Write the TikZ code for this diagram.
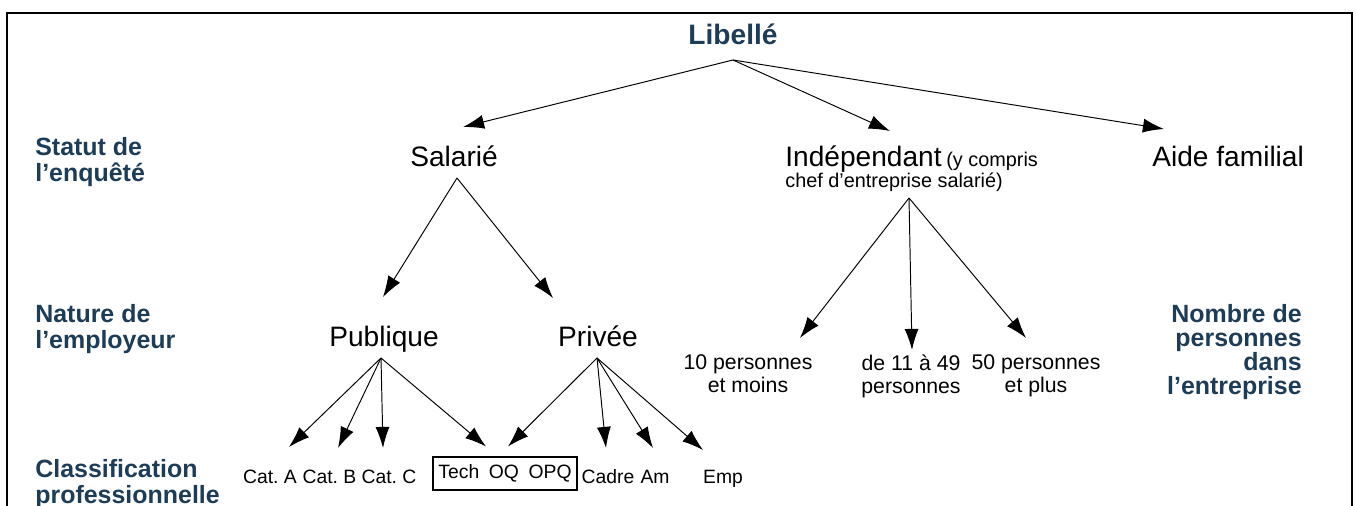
\documentclass[tikz,border=0pt]{standalone}
\usepackage{fontspec}
\setmainfont{Liberation Sans}
\usetikzlibrary{arrows.meta}
\usetikzlibrary{positioning}
\usetikzlibrary{calc}

\definecolor{levelblue}{RGB}{29,60,88}

\tikzset{
  title/.style={font=\fontsize{16}{18}\selectfont\bfseries, text=levelblue, inner sep=0pt},
  level/.style={font=\fontsize{14.2}{14.8}\selectfont\bfseries, text=levelblue, inner sep=0pt},
  big/.style={font=\fontsize{16}{18}\selectfont, inner sep=0pt},
  mid/.style={font=\fontsize{12.1}{13.1}\selectfont, inner sep=0pt, align=center},
  small/.style={font=\fontsize{11}{12}\selectfont, inner sep=0pt},
  arr/.style={-{Latex[length=12pt,width=8pt]}, line width=0.55pt},
}

\begin{document}
\frenchspacing
\begin{tikzpicture}[x=0.02cm, y=-0.02cm]
\useasboundingbox (0,0) rectangle (1356,506);

%frame
\draw[line width=1.6pt] (7,520) -- (7,13) -- (1352,13) -- (1352,520);

%levels
\node[level, anchor=north west, align=left] (statut) at (35,137) {Statut de\\l’enquêté};
\node[level, anchor=north west, align=left] (nature) at (35,304) {Nature de\\l’employeur};
\node[level, anchor=north west, align=left] (classif) at (35,459) {Classification\\professionnelle};
\node[level, anchor=north east, align=right, font=\fontsize{14.2}{13.7}\selectfont\bfseries] (nombre) at (1302,304) {Nombre de\\personnes\\dans\\l’entreprise};

%top
\node[title, anchor=base] (lib) at (733,45) {Libellé};
\coordinate (libfoot) at ($(lib.base)+(0,15)$);

%statut
\node[big, anchor=base] (sal) at (454,167) {Salarié};
\node[big, anchor=base west] (ind) at (785,167) {Indépendant};
\node[small, anchor=base west, font=\fontsize{11.3}{12}\selectfont] (indy) at (946,167) {(y compris};
\node[small, anchor=base west, font=\fontsize{11.3}{12}\selectfont] (indb) at (785,188) {chef d’entreprise salarié)};
\node[big, anchor=base west] (aide) at (1152,167) {Aide familial};

\draw[arr] (libfoot) -- ($(sal.base)+(9,-40)$);
\draw[arr] (libfoot) -- ($(ind.base west)+(105,-36)$);
\draw[arr] (libfoot) -- ($(aide.base west)+(12,-38)$);

%employeur
\node[big, anchor=base] (pub) at (384,347) {Publique};
\node[big, anchor=base] (priv) at (598,347) {Privée};
\coordinate (salfoot) at ($(sal.base)+(3,11)$);
\draw[arr] (salfoot) -- ($(pub.base)+(-1,-50)$);
\draw[arr] (salfoot) -- ($(priv.base)+(-45,-49)$);

%taille entreprise
\node[mid, anchor=north] (p10) at (748,354) {10 personnes\\et moins};
\node[mid, anchor=north] (p11) at (911,354) {de 11 à 49\\personnes};
\node[mid, anchor=north] (p50) at (1036,354) {50 personnes\\et plus};
\coordinate (indfoot) at ($(indb.base west)+(124,10)$);
\foreach \n/\dx/\dy in {p10/52/-16, p11/1/-4, p50/-10/-16} {
  \draw[arr] (indfoot) -- ($(\n.north)+(\dx,\dy)$);
}

%classification
\node[small, anchor=base] (cata) at (270,483) {Cat. A};
\node[small, anchor=base] (catb) at (329.5,483) {Cat. B};
\node[small, anchor=base] (catc) at (389,483) {Cat. C};
\node[small, draw, line width=0.6pt, minimum width=2.88cm, minimum height=0.66cm] (ouv) at (505,473.5) {Tech\hspace{5.5pt}OQ\hspace{5.5pt}OPQ};
\node[small, anchor=base] (cadre) at (608,483) {Cadre};
\node[small, anchor=base] (am) at (655,483) {Am};
\node[small, anchor=base] (emp) at (723,483) {Emp};

\coordinate (pubfoot) at ($(pub.base)+(-3,11)$);
\coordinate (privfoot) at ($(priv.base)+(-1,11)$);
\foreach \n/\dx/\dy in {cata/19/-36, catb/8.5/-35, catc/-6/-35} {
  \draw[arr] (pubfoot) -- ($(\n.base)+(\dx,\dy)$);
}
\draw[arr] (pubfoot) -- ($(ouv.north)+(-19,-10)$);
\draw[arr] (privfoot) -- ($(ouv.north)+(3,-10)$);
\foreach \n/\dx/\dy in {cadre/-2/-35, am/-2/-35, emp/-20/-33} {
  \draw[arr] (privfoot) -- ($(\n.base)+(\dx,\dy)$);
}
\end{tikzpicture}
\end{document}
